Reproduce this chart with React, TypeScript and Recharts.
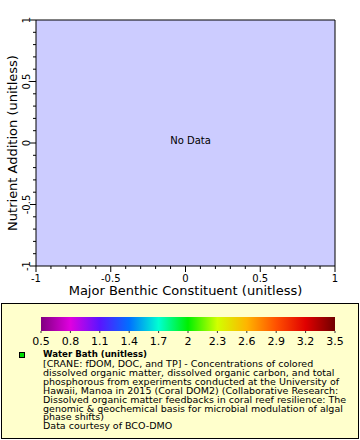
import { ScatterChart, Scatter, XAxis, YAxis, ReferenceArea, Label } from 'recharts';

const xTicks = [-1, -0.9, -0.8, -0.7, -0.6, -0.5, -0.4, -0.3, -0.2, -0.1, 0, 0.1, 0.2, 0.3, 0.4, 0.5, 0.6, 0.7, 0.8, 0.9, 1];
const yTicks = [-1, -0.9, -0.8, -0.7, -0.6, -0.5, -0.4, -0.3, -0.2, -0.1, 0, 0.1, 0.2, 0.3, 0.4, 0.5, 0.6, 0.7, 0.8, 0.9, 1];
const majorTicks = [-1, -0.5, 0, 0.5, 1];
const points: { x: number; y: number; c: number }[] = [];

const colorbarLabels = ['0.5', '0.8', '1.1', '1.4', '1.7', '2', '2.3', '2.6', '2.9', '3.2', '3.5'];
const colorbarStops = ['#800080', '#e000e0', '#5a14ff', '#0070ff', '#00ffd2', '#00f000', '#d2ff00', '#ffb400', '#ff5000', '#e00000', '#700000'];

const legendTitle = 'Water Bath (unitless)';
const legendLines = [
  '[CRANE: fDOM, DOC, and TP] - Concentrations of colored',
  'dissolved organic matter, dissolved organic carbon, and total',
  'phosphorous from experiments conducted at the University of',
  'Hawaii, Manoa in 2015 (Coral DOM2) (Collaborative Research:',
  'Dissolved organic matter feedbacks in coral reef resilience: The',
  'genomic & geochemical basis for microbial modulation of algal',
  'phase shifts)',
  'Data courtesy of BCO-DMO',
];

const font = '"DejaVu Sans", sans-serif';
const isMajor = (v: number) => majorTicks.some((m) => Math.abs(m - v) < 1e-9);

const XTick = (props: any) => {
  const { x, y, payload } = props;
  const major = isMajor(payload.value);
  return (
    <g>
      <line x1={x} x2={x} y1={y} y2={y + (major ? 6 : 3)} stroke="#000" />
      {major && (
        <text x={x} y={y + 16} textAnchor="middle" fontSize={10} fontFamily={font} fill="#000">
          {String(payload.value)}
        </text>
      )}
    </g>
  );
};

const YTick = (props: any) => {
  const { x, y, payload } = props;
  const major = isMajor(payload.value);
  return (
    <g>
      <line x1={x} x2={x - (major ? 6 : 3)} y1={y} y2={y} stroke="#000" />
      {major && (
        <text
          x={x - 6}
          y={y}
          textAnchor="middle"
          fontSize={10}
          fontFamily={font}
          fill="#000"
          transform={`rotate(-90 ${x - 6} ${y})`}
        >
          {String(payload.value)}
        </text>
      )}
    </g>
  );
};

function Legend() {
  const barX = 41;
  const barW = 294;
  return (
    <svg width={360} height={140} style={{ position: 'absolute', left: 0, top: 300 }}>
      <defs>
        <linearGradient id="cbar" x1="0" x2="1" y1="0" y2="0">
          {colorbarStops.map((c, i) => (
            <stop key={i} offset={i / (colorbarStops.length - 1)} stopColor={c} />
          ))}
        </linearGradient>
      </defs>
      <rect x={1.5} y={3.5} width={357} height={135} fill="#ffffcc" stroke="#000" />
      <rect x={barX} y={17} width={barW} height={14} fill="url(#cbar)" />
      {colorbarLabels.map((l, i) => {
        const x = barX + (barW * i) / (colorbarLabels.length - 1);
        return (
          <g key={l}>
            <line x1={x} x2={x} y1={31} y2={33} stroke="#333" />
            <text x={x} y={45} textAnchor="middle" fontSize={11} fontFamily={font} fill="#000">
              {l}
            </text>
          </g>
        );
      })}
      <rect x={19.5} y={52.5} width={5} height={5} fill="#00dd00" stroke="#000" />
      <text
        x={43}
        y={57}
        fontSize={9.5}
        fontWeight="bold"
        fontFamily={font}
        fill="#000"
        textLength={104}
        lengthAdjust="spacingAndGlyphs"
      >
        {legendTitle}
      </text>
      {legendLines.map((l, i) => (
        <text key={i} x={43} y={67.3 + i * 8.86} fontSize={9.5} fontFamily={font} fill="#000">
          {l}
        </text>
      ))}
    </svg>
  );
}

export default function App() {
  return (
    <div style={{ position: 'absolute', left: 0, top: 0, width: 360, height: 440, background: '#fff' }}>
      <ScatterChart width={360} height={300} margin={{ top: 20, right: 25, left: 0, bottom: 0 }}>
        <XAxis
          type="number"
          dataKey="x"
          domain={[-1, 1]}
          allowDataOverflow
          ticks={xTicks}
          interval={0}
          tick={XTick}
          tickLine={false}
          axisLine={false}
          tickSize={0}
          tickMargin={0}
          height={34}
        >
          <Label
            content={(p: any) => (
              <text
                x={p.viewBox.x + p.viewBox.width / 2}
                y={p.viewBox.y + 29}
                textAnchor="middle"
                fontSize={13}
                fontFamily={font}
                fill="#000"
              >
                Major Benthic Constituent (unitless)
              </text>
            )}
          />
        </XAxis>
        <YAxis
          type="number"
          dataKey="y"
          domain={[-1, 1]}
          allowDataOverflow
          ticks={yTicks}
          interval={0}
          tick={YTick}
          tickLine={false}
          axisLine={false}
          tickSize={0}
          tickMargin={0}
          width={36}
        >
          <Label
            content={(p: any) => {
              const cx = p.viewBox.x + 17;
              const cy = p.viewBox.y + p.viewBox.height / 2;
              return (
                <text
                  x={cx}
                  y={cy}
                  textAnchor="middle"
                  fontSize={13}
                  fontFamily={font}
                  fill="#000"
                  transform={`rotate(-90 ${cx} ${cy})`}
                >
                  Nutrient Addition (unitless)
                </text>
              );
            }}
          />
        </YAxis>
        <ReferenceArea
          x1={-1}
          x2={1}
          y1={-1}
          y2={1}
          fill="#ccccff"
          fillOpacity={1}
          stroke="#000"
          strokeWidth={1}
          ifOverflow="visible"
          label={(p: any) => (
            <text
              x={p.viewBox.x + p.viewBox.width / 2 + 5}
              y={p.viewBox.y + p.viewBox.height / 2 + 1}
              textAnchor="middle"
              fontSize={10}
              fontFamily={font}
              fill="#000"
            >
              No Data
            </text>
          )}
        />
        <Scatter data={points} fill="#00dd00" isAnimationActive={false} />
      </ScatterChart>
      <Legend />
    </div>
  );
}
